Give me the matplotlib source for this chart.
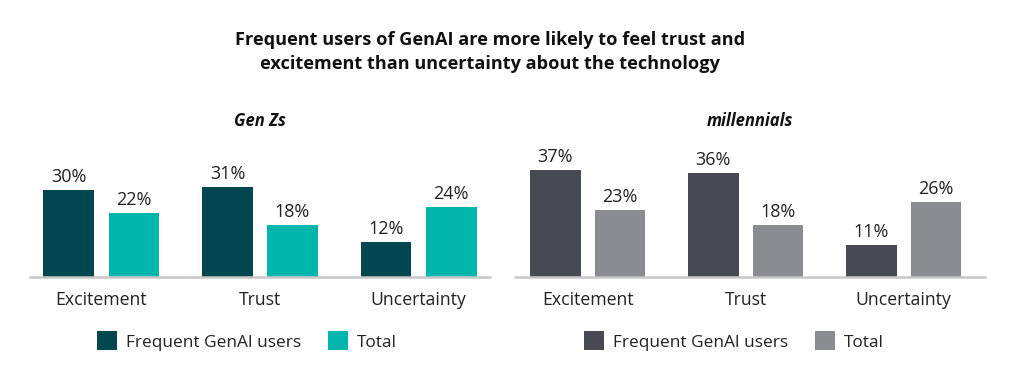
import numpy as np
import matplotlib.pyplot as plt
from matplotlib.patches import Patch

plt.rcParams['font.family'] = ['Open Sans', 'DejaVu Sans']

categories = ["Excitement", "Trust", "Uncertainty"]
series_names = ["Frequent GenAI users", "Total"]
genz_frequent = [30, 31, 12]
genz_total = [22, 18, 24]
mill_frequent = [37, 36, 11]
mill_total = [23, 18, 26]

title = ("Frequent users of GenAI are more likely to feel trust and\n"
         "excitement than uncertainty about the technology")

W, H = 1024, 392
fig = plt.figure(figsize=(W / 100, H / 100), dpi=100)


def panel(rect, xlim, name, freq, total, colors, legend_x):
    ax = fig.add_axes(rect)
    x = np.arange(len(categories))
    w = 0.32
    off = 0.205
    b1 = ax.bar(x - off, freq, w, color=colors[0])
    b2 = ax.bar(x + off, total, w, color=colors[1])
    for bars, vals in ((b1, freq), (b2, total)):
        for b, v in zip(bars, vals):
            ax.text(b.get_x() + b.get_width() / 2, v + 1.4, f"{v}%",
                    ha="center", va="bottom", fontsize=13, color="#222222",
                    clip_on=False)
    ax.set_xlim(*xlim)
    ax.set_ylim(0, 40)
    ax.set_yticks([])
    ax.set_xticks(x)
    ax.set_xticklabels(categories, fontsize=12.7, color="#222222")
    ax.tick_params(axis="x", length=0, pad=10)
    for s in ("top", "right", "left"):
        ax.spines[s].set_visible(False)
    ax.spines["bottom"].set_color("#c8c8c8")
    ax.spines["bottom"].set_linewidth(1.8)
    ax.patch.set_alpha(0)
    cx = rect[0] + rect[2] / 2
    fig.text(cx, 1 - 121 / H, name, ha="center", va="center",
             fontsize=12, fontweight="bold", fontstyle="italic", color="#111111")
    handles = [Patch(facecolor=colors[0], label=series_names[0]),
               Patch(facecolor=colors[1], label=series_names[1])]
    fig.legend(handles=handles, loc="center", bbox_to_anchor=(legend_x, 1 - 341 / H),
               ncol=2, frameon=False, fontsize=12.4, handlelength=1.15, handleheight=1.3,
               handletextpad=0.5, columnspacing=1.6, labelcolor="#222222")
    return ax


bottom = (H - 277) / H
height = 116 / H
panel([30 / W, bottom, 460 / W, height], (-0.45, 2.45), "Gen Zs",
      genz_frequent, genz_total, ["#02464f", "#00b5ac"], 247 / W)
panel([515 / W, bottom, 470 / W, height], (-0.46, 2.515), "millennials",
      mill_frequent, mill_total, ["#474a53", "#8b8c91"], 734 / W)

fig.text(490 / W, 1 - 52 / H, title, ha="center", va="center", fontsize=13.1,
         fontweight="bold", color="#111111", linespacing=1.4)

fig.savefig("out.png", dpi=100)
